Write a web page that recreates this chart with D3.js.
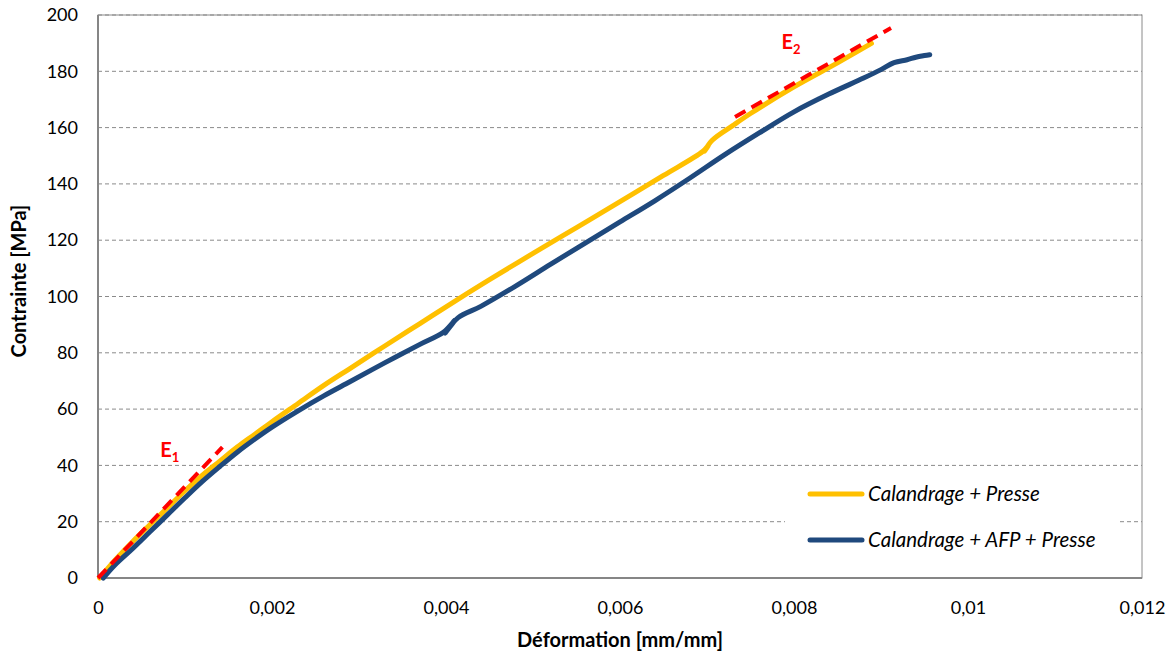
<!DOCTYPE html>
<html><head><meta charset="utf-8">
<script src="https://cdn.jsdelivr.net/npm/d3@7"></script>
<style>
body{margin:0;background:#fff;}
svg{display:block;font-family:Lato,"Open Sans",sans-serif;}
</style></head>
<body><svg id="c" width="1173" height="657"></svg>
<script>
// Calandrage + Presse
const strainCP = [0.00002,0.0002,0.0004,0.0006,0.0008,0.0010,0.0012,0.0014,0.0016,0.0018,0.0020,0.0023,0.0026,0.0029,0.0033,0.0037,0.0041,0.0045,0.0050,0.0055,0.0060,0.0065,0.00695,0.00702,0.00697,0.00706,0.0073,0.0075,0.0080,0.0085,0.00889];
const stressCP = [0,6.5,13,19,25,31,36.5,41.5,46.5,51,55.5,62,68.5,74.5,82.5,90.4,98.3,106,115.3,124.5,133.7,143,151.5,153.8,151.6,155.5,160.8,165,174.5,183,189.9];
// Calandrage + AFP + Presse
const strainCAP = [0.00006,0.0002,0.0004,0.0006,0.0008,0.0010,0.0012,0.0014,0.0016,0.0018,0.0020,0.0023,0.0026,0.0029,0.0033,0.0037,0.00397,0.00410,0.00399,0.00414,0.0044,0.0048,0.0052,0.0056,0.0060,0.0064,0.0068,0.0072,0.0076,0.0080,0.0084,0.0088,0.0090,0.00915,0.0093,0.0094,0.0095,0.00956];
const stressCAP = [0,4.8,10.5,16.5,22.5,28.5,34.3,39.6,44.7,49.3,53.6,59.4,64.8,69.8,76.5,83,87.3,91.5,87.0,92.5,96.5,103.7,111.4,119,126.5,134,142,150.3,158.1,165.6,171.9,177.6,180.6,183.1,184.1,185,185.6,185.9];
// Tangent moduli lines
const e1Strain = [0.0000,0.00143];
const e1Stress = [0,46.5];
const e2Strain = [0.007322,0.009115];
const e2Stress = [163.8,195.4];
const xTicks = [0,0.002,0.004,0.006,0.008,0.01,0.012];
const xTickLabels = ["0","0,002","0,004","0,006","0,008","0,01","0,012"];
const yTicks = [0,20,40,60,80,100,120,140,160,180,200];
const seriesNames = ["Calandrage + Presse","Calandrage + AFP + Presse"];
const seriesColors = ["#ffc000","#1f497d"];

const svg = d3.select("#c");
const L=98,R=1142,T=15,B=578;
const x = d3.scaleLinear().domain([0,0.012]).range([L,R]);
const y = d3.scaleLinear().domain([0,200]).range([B,T]);

// gridlines
svg.append("g").selectAll("line").data(yTicks.filter(d=>d>0)).join("line")
  .attr("x1",L).attr("x2",R).attr("y1",d=>y(d)).attr("y2",d=>y(d))
  .attr("stroke","#8a8a8a").attr("stroke-width",1).attr("stroke-dasharray","4,3");
// plot border
svg.append("rect").attr("x",L).attr("y",T).attr("width",R-L).attr("height",B-T)
  .attr("fill","none").attr("stroke","#8a8a8a").attr("stroke-width",1);
svg.append("line").attr("x1",L).attr("x2",L).attr("y1",T).attr("y2",B).attr("stroke","#868686").attr("stroke-width",2);
svg.append("line").attr("x1",L).attr("x2",R).attr("y1",B).attr("y2",B).attr("stroke","#868686").attr("stroke-width",2);

// axes
const yAxis = d3.axisLeft(y).tickValues(yTicks).tickSize(0).tickPadding(20).tickFormat(d=>d);
const gy = svg.append("g").attr("transform",`translate(${L},0)`).call(yAxis);
gy.select(".domain").remove();
gy.selectAll("text").attr("font-size",18).attr("fill","#000").attr("font-family","Lato");
const xAxis = d3.axisBottom(x).tickValues(xTicks).tickSize(0).tickPadding(23).tickFormat((d,i)=>xTickLabels[i]);
const gx = svg.append("g").attr("transform",`translate(0,${B})`).call(xAxis);
gx.select(".domain").remove();
gx.selectAll("text").attr("font-size",18).attr("fill","#000").attr("font-family","Lato");

// series
const line = d3.line().x(d=>x(d[0])).y(d=>y(d[1])).curve(d3.curveCatmullRom.alpha(0.5));
const dCP = strainCP.map((v,i)=>[v,stressCP[i]]);
const dCAP = strainCAP.map((v,i)=>[v,stressCAP[i]]);
svg.append("path").datum(dCP).attr("d",line).attr("fill","none")
  .attr("stroke",seriesColors[0]).attr("stroke-width",5).attr("stroke-linejoin","round").attr("stroke-linecap","round");
svg.append("path").datum(dCAP).attr("d",line).attr("fill","none")
  .attr("stroke",seriesColors[1]).attr("stroke-width",5).attr("stroke-linejoin","round").attr("stroke-linecap","round");

// modulus lines
const straight = d3.line().x(d=>x(d[0])).y(d=>y(d[1]));
[[e1Strain,e1Stress],[e2Strain,e2Stress]].forEach(([xs,ys])=>{
  svg.append("path").datum(xs.map((v,i)=>[v,ys[i]])).attr("d",straight).attr("fill","none")
    .attr("stroke","#ff0000").attr("stroke-width",4).attr("stroke-dasharray","12,7");
});
function eLabel(px,py,sub){
  const t = svg.append("text").attr("x",px).attr("y",py).attr("fill","#ff0000")
    .attr("font-weight","bold").attr("font-size",20).attr("font-family","Lato");
  t.append("tspan").text("E");
  t.append("tspan").text(sub).attr("font-size",13).attr("dy",5);
}
eLabel(x(0.000715),457,"1");
eLabel(x(0.007856),49,"2");

// legend
svg.append("rect").attr("x",785).attr("y",470).attr("width",335).attr("height",96).attr("fill","#fff");
seriesNames.forEach((n,i)=>{
  const ly = 494 + i*46;
  svg.append("line").attr("x1",810).attr("x2",862).attr("y1",ly).attr("y2",ly)
    .attr("stroke",seriesColors[i]).attr("stroke-width",5).attr("stroke-linecap","round");
  svg.append("text").attr("x",868).attr("y",ly+7).text(n).attr("font-size",20.5)
    .attr("font-style","italic").attr("font-family","Lato").attr("fill","#000");
});

// axis titles
svg.append("text").attr("x",x(0.006)).attr("y",647).attr("text-anchor","middle")
  .attr("font-weight","bold").attr("font-size",20).text("Déformation [mm/mm]");
svg.append("text").attr("transform",`translate(26,281) rotate(-90)`).attr("text-anchor","middle")
  .attr("font-weight","bold").attr("font-size",20).text("Contrainte [MPa]");
</script></body></html>
